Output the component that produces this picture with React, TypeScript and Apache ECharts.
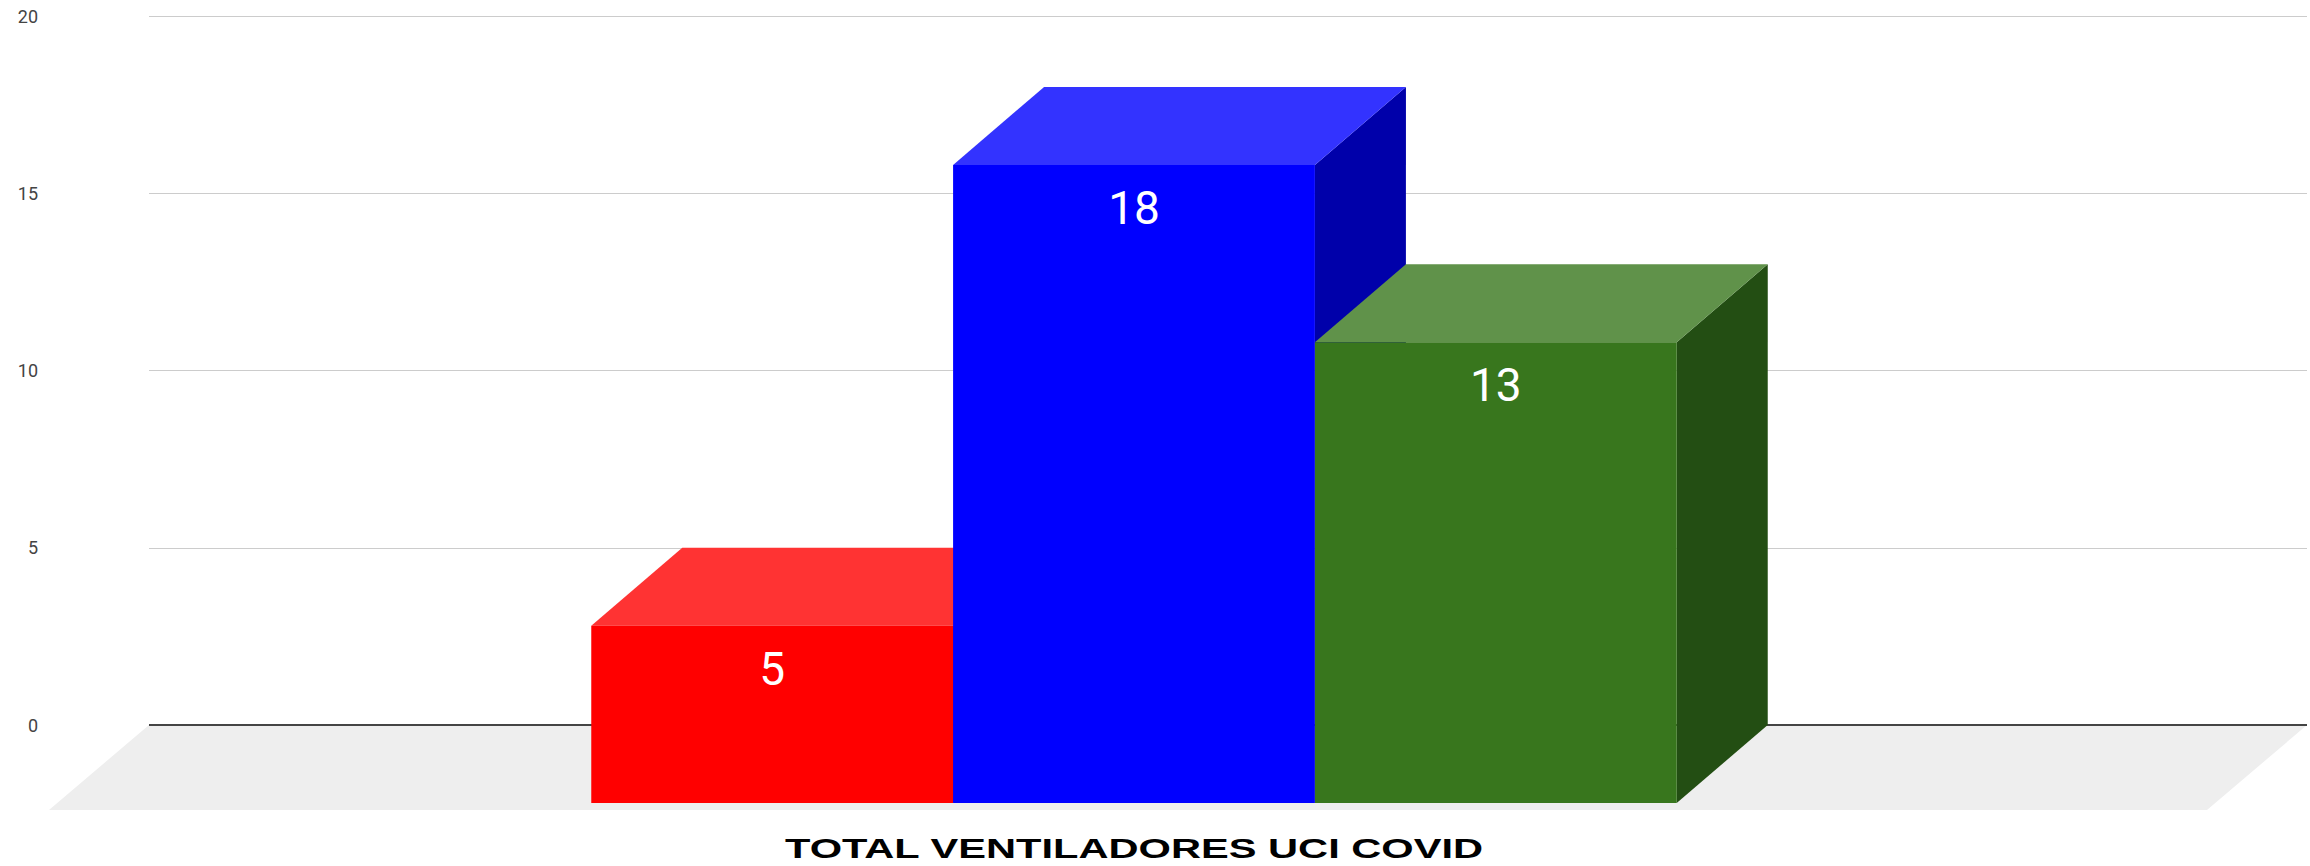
import React, { useEffect, useRef } from "react";
import * as echarts from "echarts";

const categories = ["TOTAL VENTILADORES UCI COVID"];
const seriesNames = ["Serie 1", "Serie 2", "Serie 3"];
const seriesValues = [5, 18, 13];
const yMin = 0;
const yMax = 20;
const yInterval = 5;

const frontColors = ["#ff0000", "#0000ff", "#38761d"];
const topColors = ["#ff3333", "#3333ff", "#60924a"];
const sideColors = ["#aa0000", "#0000aa", "#234e13"];

const BAR_DX = -91;
const BAR_DY = 78;
const FLOOR_DX = -100;
const FLOOR_DY = 85;
const GROUP_RATIO = 0.503;
const GROUP_SHIFT = -3;

export default function App() {
  const ref = useRef<HTMLDivElement>(null);
  useEffect(() => {
    document.body.style.margin = "0";
    if (!ref.current) return;
    const chart = echarts.init(ref.current, null, { renderer: "svg" });

    const floorSeries = {
      type: "custom",
      name: "floor",
      silent: true,
      z: 1,
      data: [[0, 0]],
      renderItem: (params: any, api: any) => {
        const cs = params.coordSys;
        const base = api.coord([0, 0]);
        const yb = base[1];
        const xl = cs.x;
        const xr = cs.x + cs.width;
        return {
          type: "group",
          children: [
            {
              type: "polygon",
              shape: {
                points: [
                  [xl, yb],
                  [xr, yb],
                  [xr + FLOOR_DX, yb + FLOOR_DY],
                  [xl + FLOOR_DX, yb + FLOOR_DY],
                ],
              },
              style: { fill: "#eeeeee" },
            },
            {
              type: "line",
              shape: { x1: xl, y1: yb, x2: xr, y2: yb },
              style: { stroke: "#444444", lineWidth: 2 },
            },
          ],
        };
      },
    };

    const barSeries = seriesValues.map((v, i) => ({
      type: "custom",
      name: seriesNames[i],
      z: 3,
      data: [[0, v]],
      renderItem: (params: any, api: any) => {
        const val = api.value(1);
        const center = api.coord([api.value(0), 0]);
        const top = api.coord([api.value(0), val]);
        const band = api.size([1, 0])[0];
        const groupW = band * GROUP_RATIO;
        const barW = groupW / seriesValues.length;
        const x0 = center[0] + GROUP_SHIFT - groupW / 2 + i * barW;
        const x1 = x0 + barW;
        const yT = top[1];
        const yB = center[1];
        return {
          type: "group",
          children: [
            {
              type: "polygon",
              shape: {
                points: [
                  [x1, yT],
                  [x1, yB],
                  [x1 + BAR_DX, yB + BAR_DY],
                  [x1 + BAR_DX, yT + BAR_DY],
                ],
              },
              style: { fill: sideColors[i] },
            },
            {
              type: "polygon",
              shape: {
                points: [
                  [x0, yT],
                  [x1, yT],
                  [x1 + BAR_DX, yT + BAR_DY],
                  [x0 + BAR_DX, yT + BAR_DY],
                ],
              },
              style: { fill: topColors[i] },
            },
            {
              type: "rect",
              shape: {
                x: x0 + BAR_DX,
                y: yT + BAR_DY,
                width: barW,
                height: yB - yT,
              },
              style: { fill: frontColors[i] },
            },
            {
              type: "text",
              x: (x0 + x1) / 2 + BAR_DX,
              y: yT + BAR_DY + 43,
              style: {
                text: String(val),
                fill: "#ffffff",
                fontSize: 46,
                fontFamily: "Roboto",
                align: "center",
                verticalAlign: "middle",
              },
            },
          ],
        };
      },
    }));

    chart.setOption({
      animation: false,
      backgroundColor: "#ffffff",
      grid: { left: 149, right: 3, top: 16, bottom: 141, containLabel: false },
      xAxis: {
        type: "category",
        data: categories,
        axisLine: { show: false },
        axisTick: { show: false },
        axisLabel: { show: false },
        splitLine: { show: false },
      },
      yAxis: {
        type: "value",
        min: yMin,
        max: yMax,
        interval: yInterval,
        axisLine: { show: false },
        axisTick: { show: false },
        axisLabel: {
          margin: 111,
          fontSize: 18,
          color: "#444444",
          fontFamily: "Roboto",
        },
        splitLine: { lineStyle: { color: "#cccccc", width: 1 } },
      },
      graphic: [
        {
          type: "text",
          x: 1134,
          y: 848,
          scaleX: 1.46,
          style: {
            text: categories[0],
            fill: "#000000",
            fontSize: 28.5,
            fontWeight: "bold",
            fontFamily: "Liberation Sans, Arial, sans-serif",
            align: "center",
            verticalAlign: "middle",
          },
        },
      ],
      series: [floorSeries, ...barSeries],
    });
    return () => chart.dispose();
  }, []);
  return <div ref={ref} style={{ width: 2310, height: 866 }} />;
}
